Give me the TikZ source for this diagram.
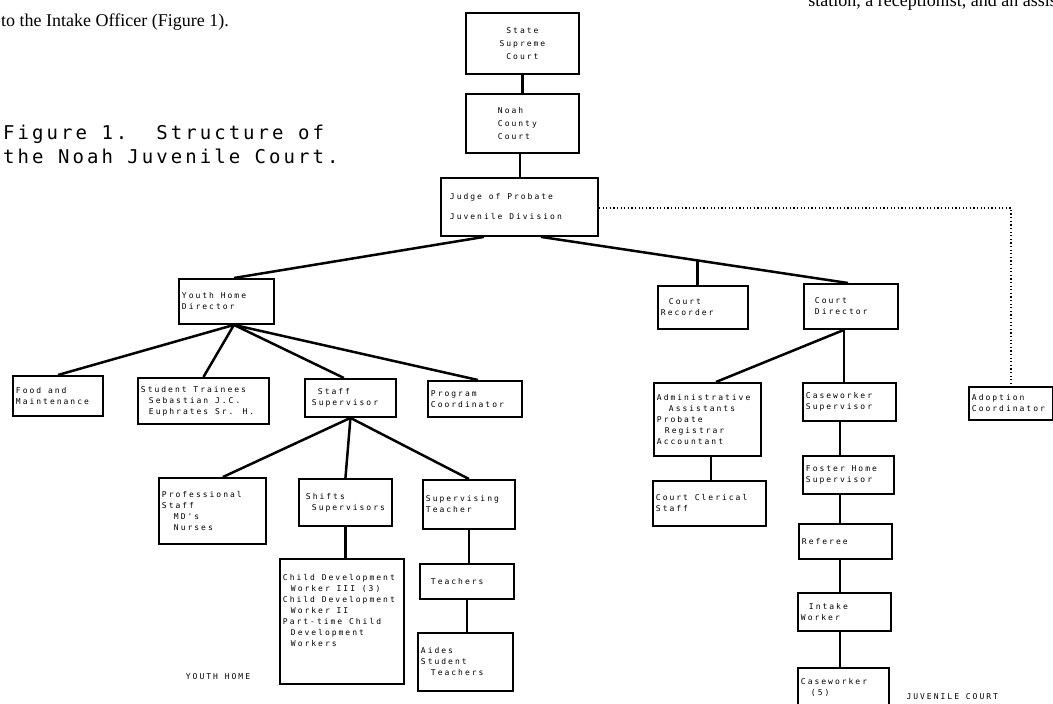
\documentclass[tikz,border=0pt]{standalone}
\usepackage{fontspec}
\usepackage{graphicx}
\usetikzlibrary{calc}
\newfontfamily\boxfont[LetterSpace=25]{DejaVu Sans Mono}
\newfontfamily\capfont[LetterSpace=16]{DejaVu Sans Mono}
\newfontfamily\hdrfont{Liberation Serif}
\newcommand\bxfnt{\boxfont\fontsize{8}{11}\selectfont}
\begin{document}
\begin{tikzpicture}[x=1pt,y=-1pt,
  box/.style={draw, line width=1.9pt, anchor=north west, inner xsep=3pt, inner ysep=2pt,
    align=flush left, font=\bxfnt},
  lbl/.style={font=\bxfnt},
  link/.style={line width=2.5pt},
  dots/.style={line width=1.4pt, dash pattern=on 1.2pt off 2.4pt}]
\clip (0,0) rectangle (1053,704);
% texts
\node[anchor=base west, font=\hdrfont\fontsize{18}{21}\selectfont, inner sep=0] (hdr) at (1,26) {to the Intake Officer (Figure 1).};
\node[anchor=base east, font=\hdrfont\fontsize{18}{21}\selectfont, inner sep=0] (hdr2) at (1062,6) {station, a receptionist, and an assist};
\node[anchor=base west, font=\capfont\fontsize{19}{23}\selectfont, inner sep=0] (cap1) at (3,139) {Figure 1.\ \ Structure of};
\node[anchor=base west, font=\capfont\fontsize{19}{23}\selectfont, inner sep=0] (cap2) at (3,163) {the Noah Juvenile Court.};
\node[lbl, anchor=base] (yh) at (218,679) {YOUTH HOME};
\node[lbl, anchor=base west] (jc) at (903,699) {JUVENILE COURT};
% boxes
\node[box, align=flush center, text width=107pt, minimum height=61pt] (state) at (465,12) {State\\[2pt]Supreme\\[2pt]Court};
\node[box, text width=107pt, minimum height=59pt] (noah) at (465,93) {\hspace*{29pt}Noah\\[2pt]\hspace*{29pt}County\\[2pt]\hspace*{29pt}Court};
\node[box, text width=151pt, minimum height=58pt] (judge) at (440,177) {\hspace*{6pt}Judge of Probate\\[9pt]\hspace*{6pt}Juvenile Division};
\node[box, text width=89pt, minimum height=45pt] (youth) at (178,278) {Youth Home\\Director};
\node[box, text width=84pt, minimum height=43pt] (recorder) at (657,285) {\hspace*{8pt}Court\\Recorder};
\node[box, text width=88pt, minimum height=45pt] (director) at (803,283) {\hspace*{8pt}Court\\\hspace*{8pt}Director};
\node[box, text width=84pt, minimum height=40pt] (food) at (12,375) {Food and\\Maintenance};
\node[box, text width=125pt, minimum height=46pt] (student) at (137,377) {Student Trainees\\\hspace*{8pt}Sebastian J.C.\\\hspace*{8pt}Euphrates Sr. H.};
\node[box, text width=85pt, minimum height=38pt] (staff) at (304,378) {\hspace*{10pt}Staff\\\hspace*{4pt}Supervisor};
\node[box, text width=88pt, minimum height=36pt] (program) at (427,380) {Program\\Coordinator};
\node[box, text width=101pt, minimum height=73pt] (admin) at (653,382) {Administrative\\\hspace*{12pt}Assistants\\Probate\\\hspace*{8pt}Registrar\\Accountant};
\node[box, text width=87pt, minimum height=38pt] (casesup) at (802,382) {Caseworker\\Supervisor};
\node[box, text width=78pt, minimum height=33pt] (adoption) at (968,386) {Adoption\\Coordinator};
\node[box, text width=101pt, minimum height=66pt] (prof) at (158,477) {Professional\\Staff\\\hspace*{12pt}MD's\\\hspace*{12pt}Nurses};
\node[box, text width=87pt, minimum height=47pt] (shifts) at (298,478) {\hspace*{4pt}Shifts\\\hspace*{10pt}Supervisors};
\node[box, text width=86pt, minimum height=49pt] (supteach) at (422,479) {Supervising\\Teacher};
\node[box, text width=107pt, minimum height=45pt] (clerical) at (652,480) {Court Clerical\\Staff};
\node[box, text width=85pt, minimum height=38pt] (foster) at (802,455) {Foster Home\\Supervisor};
\node[box, text width=87pt, minimum height=35pt] (referee) at (798,523) {Referee};
\node[box, text width=118pt, minimum height=125pt] (childdev) at (279,558) {Child Development\\\hspace*{8pt}Worker III (3)\\Child Development\\\hspace*{8pt}Worker II\\Part-time Child\\\hspace*{8pt}Development\\\hspace*{8pt}Workers\\~\\~};
\node[box, text width=88pt, minimum height=35pt] (teachers) at (419,563) {\hspace*{8pt}Teachers};
\node[box, text width=87pt, minimum height=38pt] (intake) at (797,592) {\hspace*{8pt}Intake\\Worker};
\node[box, text width=89pt, minimum height=58pt] (aides) at (417,632) {Aides\\Student\\\hspace*{10pt}Teachers};
\node[box, text width=85pt, minimum height=50pt] (casework) at (797,667) {Caseworker\\\hspace*{10pt}(5)\\~};
% connectors
\draw[link] (state.south) -- (state.south |- noah.north);
\coordinate (ns) at ([xshift=-2.5]noah.south);
\draw[link] (ns) -- (ns |- judge.north);
\coordinate (jl) at ([xshift=-35.5]judge.south);
\coordinate (jr) at ([xshift=21.5]judge.south);
\coordinate (dt) at ([xshift=-3]director.north);
\draw[link] (jl) -- ([xshift=7.5]youth.north);
\draw[link] (jr) -- (dt);
\coordinate (rj) at ($(jr)!0.51!(dt)$);
\draw[link] (rj) -- (rj |- recorder.north);
\coordinate (yb) at ([xshift=7.5]youth.south);
\draw[link] (yb) -- (food.north);
\draw[link] (yb) -- (student.north);
\draw[link] (yb) -- ([xshift=-6.5]staff.north);
\draw[link] (yb) -- ([xshift=3]program.north);
\draw[link] (staff.south) -- ([xshift=10.5]prof.north);
\draw[link] (staff.south) -- (shifts.north);
\draw[link] (staff.south) -- (supteach.north);
\draw[link] (shifts.south) -- (shifts.south |- childdev.north);
\draw[link] (supteach.south) -- (supteach.south |- teachers.north);
\draw[link] (teachers.south) -- (teachers.south |- aides.north);
\coordinate (db) at ([xshift=-7]director.south);
\draw[link] (db) -- ([xshift=8.5]admin.north);
\draw[link] (db) -- (db |- casesup.north);
\coordinate (ab) at ([xshift=3.5]admin.south);
\draw[link] (ab) -- (ab |- clerical.north);
\coordinate (cx) at (840,0);
\draw[link] (casesup.south -| cx) -- (foster.north -| cx);
\draw[link] (foster.south -| cx) -- (referee.north -| cx);
\draw[link] (referee.south -| cx) -- (intake.north -| cx);
\draw[link] (intake.south -| cx) -- (casework.north -| cx);
\draw[dots] ([yshift=-1]judge.east) -| (adoption.north);
\end{tikzpicture}
\end{document}
